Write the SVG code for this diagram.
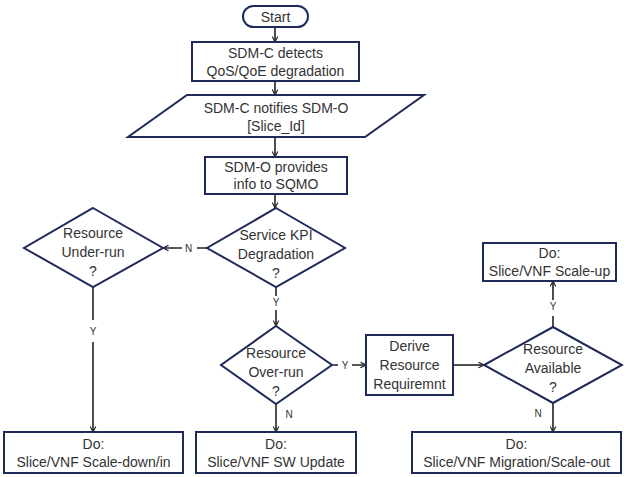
<svg xmlns="http://www.w3.org/2000/svg" width="624" height="477" viewBox="0 0 624 477">
<style>
.n{fill:#fff;stroke:#1f2a5c;stroke-width:2}
.t{font-family:"Liberation Sans",Arial,sans-serif;font-size:14px;fill:#333;text-anchor:middle}
.l{font-family:"Liberation Sans",Arial,sans-serif;font-size:10px;fill:#333;text-anchor:middle}
.c{fill:none;stroke:#222;stroke-width:1.6}
</style>
<defs>
<marker id="a" viewBox="0 0 10 10" refX="9" refY="5" markerWidth="7" markerHeight="7" markerUnits="userSpaceOnUse" orient="auto">
<path d="M1,1 L9,5 L1,9" fill="none" stroke="#222" stroke-width="1.6"/>
</marker>
</defs>
<rect width="624" height="477" fill="#fff"/>
<g id="connectors">
<path class="c" d="M275,27 V42" marker-end="url(#a)"/>
<path class="c" d="M275,81 V95" marker-end="url(#a)"/>
<path class="c" d="M275,137 V157" marker-end="url(#a)"/>
<path class="c" d="M275,194 V208" marker-end="url(#a)"/>
<path class="c" d="M207,248 H197 M182,248 H163" marker-end="url(#a)"/>
<text class="l" x="188.5" y="251.5">N</text>
<path class="c" d="M276,287 V296 M276,310 V326" marker-end="url(#a)"/>
<text class="l" x="276" y="306">Y</text>
<path class="c" d="M93,287 V320 M93,342 V432" marker-end="url(#a)"/>
<text class="l" x="93" y="335">Y</text>
<path class="c" d="M332,365 H338 M352,365 H366" marker-end="url(#a)"/>
<text class="l" x="345" y="368.5">Y</text>
<path class="c" d="M276,404 V432" marker-end="url(#a)"/>
<text class="l" x="289" y="418">N</text>
<path class="c" d="M453,365 H484" marker-end="url(#a)"/>
<path class="c" d="M553,327 V316 M553,300 V281" marker-end="url(#a)"/>
<text class="l" x="553" y="310">Y</text>
<path class="c" d="M553,403 V432" marker-end="url(#a)"/>
<text class="l" x="538" y="417">N</text>
</g>
<g id="start">
<rect class="n" x="243" y="6" width="65" height="21" rx="10.5"/>
<text class="t" x="275.5" y="21.5">Start</text>
</g>
<g id="detect">
<rect class="n" x="192" y="42" width="167" height="39"/>
<text class="t" x="275.5" y="58">SDM-C detects</text>
<text class="t" x="275.5" y="76">QoS/QoE degradation</text>
</g>
<g id="notify">
<polygon class="n" points="187,95 424,95 365,137 128,137"/>
<text class="t" x="276" y="113">SDM-C notifies SDM-O</text>
<text class="t" x="276" y="131">[Slice_Id]</text>
</g>
<g id="provide">
<rect class="n" x="205" y="157" width="142" height="37"/>
<text class="t" x="276" y="172">SDM-O provides</text>
<text class="t" x="276" y="189">info to SQMO</text>
</g>
<g id="kpi">
<polygon class="n" points="276,208 345,248 276,287 207,248"/>
<text class="t" x="276" y="240">Service KPI</text>
<text class="t" x="276" y="259">Degradation</text>
<text class="t" x="276" y="278">?</text>
</g>
<g id="underrun">
<polygon class="n" points="93,208 163,248 93,287 24,248"/>
<text class="t" x="93" y="238">Resource</text>
<text class="t" x="93" y="257">Under-run</text>
<text class="t" x="93" y="276">?</text>
</g>
<g id="overrun">
<polygon class="n" points="276,326 332,365 276,404 221,365"/>
<text class="t" x="276" y="358">Resource</text>
<text class="t" x="276" y="377">Over-run</text>
<text class="t" x="276" y="396">?</text>
</g>
<g id="derive">
<rect class="n" x="366" y="335" width="87" height="60"/>
<text class="t" x="409.5" y="351">Derive</text>
<text class="t" x="409.5" y="370">Resource</text>
<text class="t" x="409.5" y="389">Requiremnt</text>
</g>
<g id="available">
<polygon class="n" points="553,327 622,365 553,403 484,365"/>
<text class="t" x="553" y="354">Resource</text>
<text class="t" x="553" y="373">Available</text>
<text class="t" x="553" y="392">?</text>
</g>
<g id="scaleup">
<rect class="n" x="483" y="243" width="133" height="38"/>
<text class="t" x="549.5" y="258">Do:</text>
<text class="t" x="549.5" y="276">Slice/VNF Scale-up</text>
</g>
<g id="scaledown">
<rect class="n" x="4" y="432" width="179" height="41"/>
<text class="t" x="93.5" y="449">Do:</text>
<text class="t" x="93.5" y="467">Slice/VNF Scale-down/in</text>
</g>
<g id="swupdate">
<rect class="n" x="196" y="432" width="160" height="41"/>
<text class="t" x="276" y="449">Do:</text>
<text class="t" x="276" y="467">Slice/VNF SW Update</text>
</g>
<g id="migration">
<rect class="n" x="412" y="432" width="209" height="41"/>
<text class="t" x="516.5" y="449">Do:</text>
<text class="t" x="516.5" y="467">Slice/VNF Migration/Scale-out</text>
</g>
</svg>
